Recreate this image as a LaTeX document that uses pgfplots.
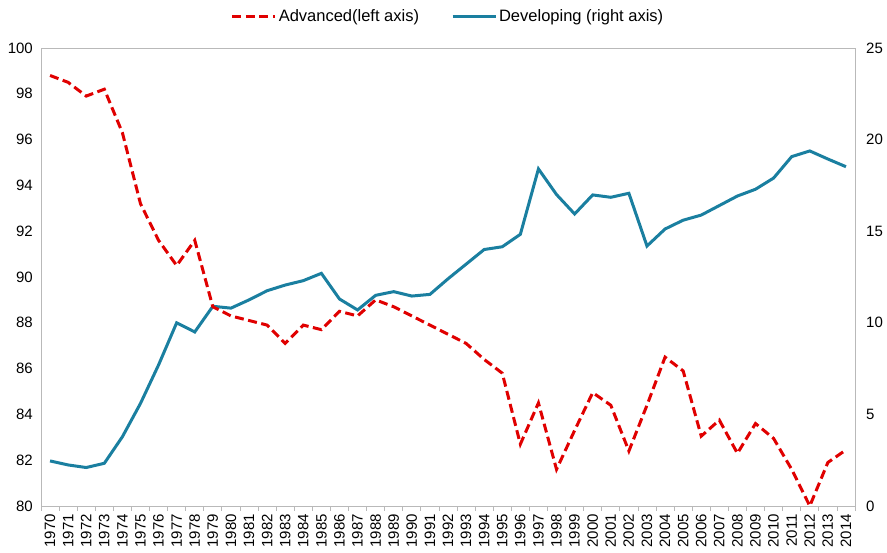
\documentclass[border=0pt]{standalone}
\usepackage{fontspec}
\setmainfont{Liberation Sans}
\usepackage{pgfplots}
\pgfplotsset{compat=1.18}
\definecolor{advred}{RGB}{224,0,0}
\definecolor{devblue}{RGB}{26,127,160}
\definecolor{axgray}{RGB}{185,185,185}
\pgfplotstableread{
year adv
1970 98.8
1971 98.5
1972 97.9
1973 98.2
1974 96.3
1975 93.2
1976 91.6
1977 90.5
1978 91.6
1979 88.7
1980 88.3
1981 88.1
1982 87.9
1983 87.1
1984 87.9
1985 87.7
1986 88.5
1987 88.3
1988 89.0
1989 88.7
1990 88.3
1991 87.9
1992 87.5
1993 87.1
1994 86.4
1995 85.8
1996 82.7
1997 84.5
1998 81.6
1999 83.3
2000 84.95
2001 84.4
2002 82.4
2003 84.4
2004 86.5
2005 85.9
2006 83.05
2007 83.75
2008 82.3
2009 83.6
2010 82.95
2011 81.6
2012 80.0
2013 81.9
2014 82.45
}\advtable
\pgfplotstableread{
year dev
1970 2.46
1971 2.24
1972 2.1
1973 2.33
1974 3.78
1975 5.6
1976 7.7
1977 10.0
1978 9.5
1979 10.9
1980 10.8
1981 11.25
1982 11.75
1983 12.06
1984 12.3
1985 12.7
1986 11.3
1987 10.7
1988 11.5
1989 11.7
1990 11.46
1991 11.55
1992 12.4
1993 13.2
1994 14.0
1995 14.15
1996 14.83
1997 18.4
1998 17.0
1999 15.94
2000 16.98
2001 16.85
2002 17.07
2003 14.19
2004 15.12
2005 15.6
2006 15.88
2007 16.4
2008 16.92
2009 17.29
2010 17.9
2011 19.07
2012 19.38
2013 18.94
2014 18.52
}\devtable
\begin{document}
\fontsize{14}{16}\selectfont
\begin{tikzpicture}
\pgfplotsset{
  common/.style={
    scale only axis, width=814pt, height=458pt,
    at={(0pt,0pt)}, anchor=south west,
    xmin=1969.5, xmax=2014.5,
    /pgf/number format/assume math mode=true,
    /pgf/number format/1000 sep={},
    ticklabel style={font=\fontsize{15}{17}\selectfont, text=black},
    axis line style={axgray, line width=0.8pt},
    major tick length=0pt,
  }
}
\begin{axis}[common,
  ymin=0, ymax=25, ytick={0,5,...,25},
  axis x line=none, axis y line*=right,
  yticklabel style={inner sep=0pt},
  yticklabel shift=11pt,
]
\addplot[devblue, line width=3pt] table[x=year,y=dev] {\devtable};
\end{axis}
\begin{axis}[common,
  ymin=80, ymax=100, ytick={80,82,...,100},
  xtick={1970,...,2014},
  minor xtick={1969.5,1970.5,...,2014.5},
  minor tick length=5pt, tick align=outside,
  minor tick style={axgray, line width=0.8pt},
  xtick pos=bottom, ytick pos=left,
  xticklabel style={rotate=90, anchor=east, inner sep=0pt},
  xticklabel shift=8pt,
  yticklabel style={inner sep=0pt},
  yticklabel shift=8pt,
  legend style={at={(0.5,1)}, anchor=south, yshift=20pt, draw=none, fill=none,
    legend columns=2, font=\fontsize{16.5}{18}\selectfont,
    /tikz/every even column/.append style={column sep=30pt},
    nodes={inner sep=2pt}},
  legend image code/.code={\draw[#1] (0pt,0pt) -- (43pt,0pt);},
]
\addplot[advred, line width=3pt, dash pattern=on 9pt off 4.5pt] table[x=year,y=adv] {\advtable};
\addlegendentry{Advanced(left axis)}
\addlegendimage{devblue, line width=3pt}
\addlegendentry{Developing (right axis)}
\end{axis}
\pgfresetboundingbox
\path (-41pt,-47pt) rectangle (846pt,506pt);
\end{tikzpicture}
\end{document}
